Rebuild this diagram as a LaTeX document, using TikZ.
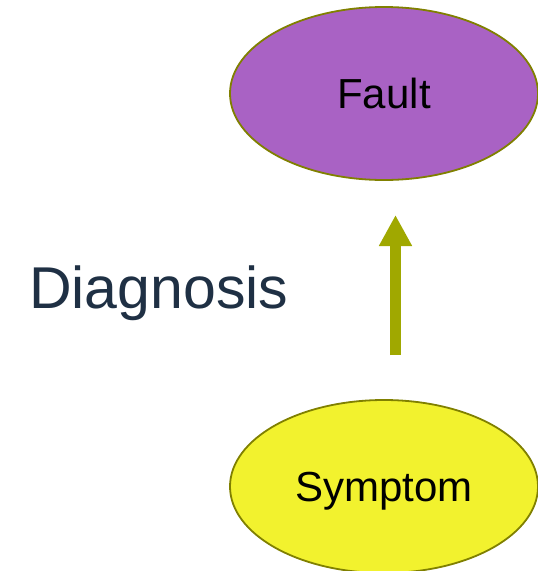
\documentclass[tikz,border=0pt]{standalone}
\usepackage{fontspec}
\setmainfont{Liberation Sans}
\usetikzlibrary{shapes.geometric,arrows.meta}
\definecolor{faultfill}{RGB}{169,98,196}
\definecolor{sympfill}{RGB}{242,242,46}
\definecolor{edgeolive}{RGB}{128,128,0}
\definecolor{arrowolive}{RGB}{160,168,0}
\definecolor{labelnavy}{RGB}{31,48,68}
\tikzset{
  bubble/.style={ellipse, draw=edgeolive, line width=1.8pt, minimum width=308pt, minimum height=173pt, inner sep=0pt, text height=30pt, text depth=0pt, font=\fontsize{42}{50}\selectfont, text=black},
  bigarrow/.style={draw=arrowolive, line width=11pt, -{Triangle[width=31pt,length=31pt]}}
}
\begin{document}
\begin{tikzpicture}[x=1pt,y=-1pt]
\fill[white] (0,0) rectangle (538,571);
\useasboundingbox (0,0) rectangle (538,571);
\node[bubble, fill=faultfill] (fault) at (384,93.5) {Fault};
\node[bubble, fill=sympfill] (symptom) at (384,486.5) {Symptom};
\node[anchor=base west, inner sep=0pt, text=labelnavy, font=\fontsize{59}{70}\selectfont] (diag) at (29,308) {Diagnosis};
\coordinate (arrowstart) at (395.5,355);
\coordinate (arrowend) at (395.5,215);
\draw[bigarrow] (arrowstart) -- (arrowend);
\end{tikzpicture}
\end{document}
